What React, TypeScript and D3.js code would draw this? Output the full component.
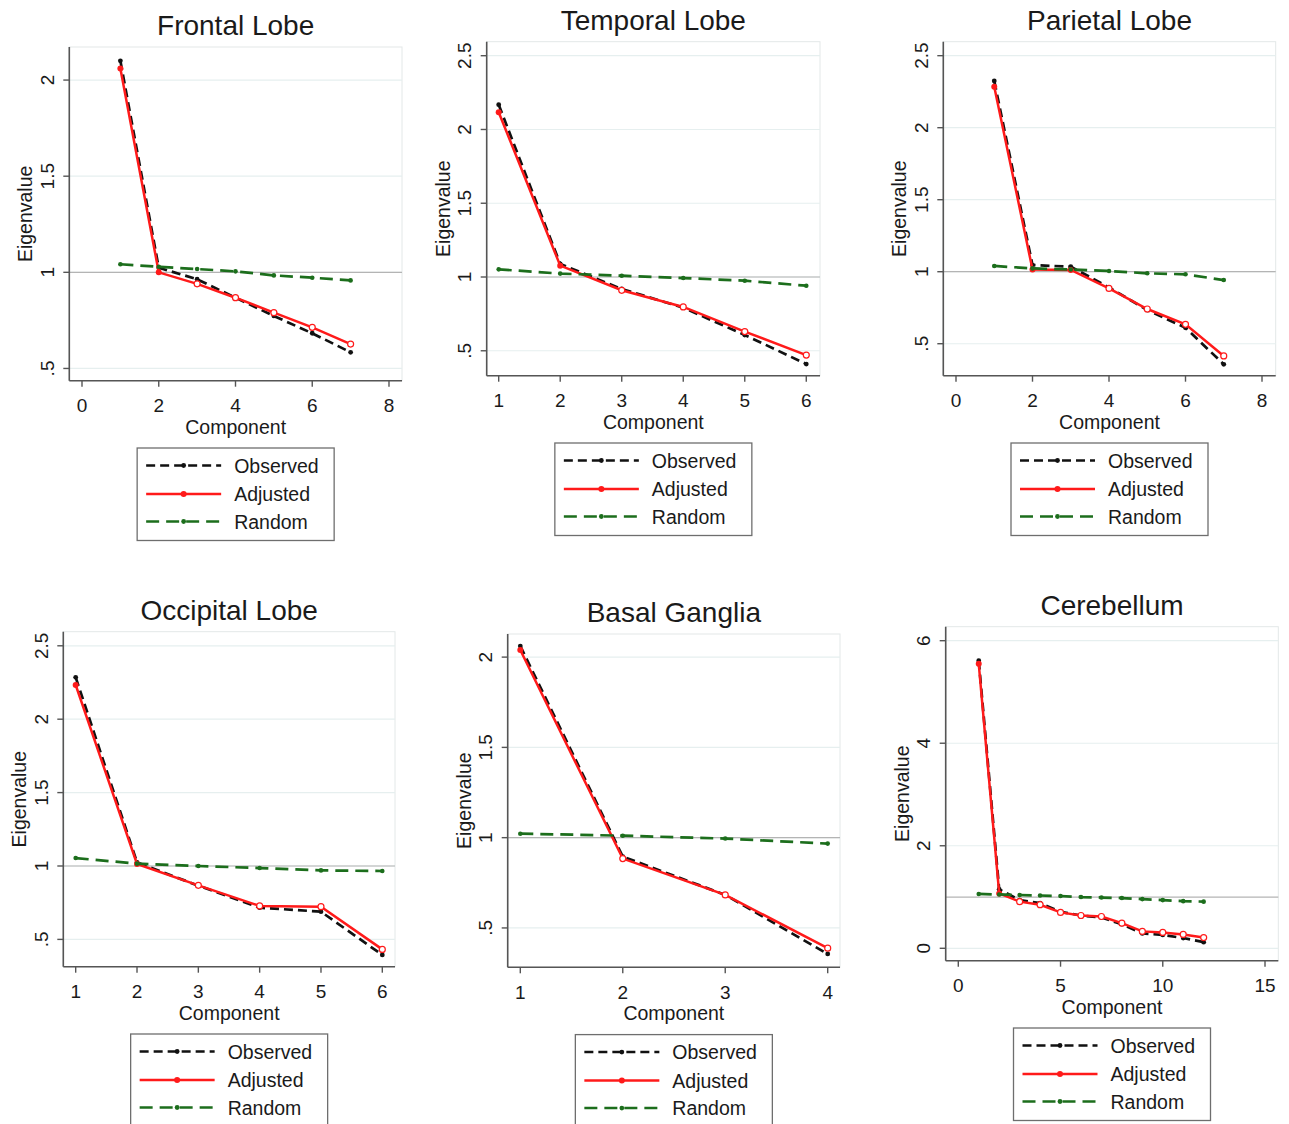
import React from "react";
import * as d3 from "d3";

// ---------------- DATA ----------------
const frontalObserved = [2.10, 1.024, 0.964, 0.868, 0.773, 0.683, 0.584];
const frontalAdjusted = [2.06, 1.00, 0.94, 0.868, 0.79, 0.714, 0.627];
const frontalRandom = [1.042, 1.029, 1.017, 1.005, 0.984, 0.972, 0.958];

const temporalObserved = [2.168, 1.088, 0.919, 0.792, 0.607, 0.41];
const temporalAdjusted = [2.117, 1.077, 0.91, 0.797, 0.63, 0.471];
const temporalRandom = [1.052, 1.023, 1.009, 0.993, 0.975, 0.941];

const parietalObserved = [2.324, 1.046, 1.035, 0.891, 0.734, 0.611, 0.357];
const parietalAdjusted = [2.285, 1.016, 1.012, 0.884, 0.741, 0.635, 0.415];
const parietalRandom = [1.04, 1.023, 1.015, 1.005, 0.989, 0.982, 0.942];

const occipitalObserved = [2.285, 1.025, 0.866, 0.716, 0.689, 0.394];
const occipitalAdjusted = [2.233, 1.014, 0.868, 0.728, 0.723, 0.432];
const occipitalRandom = [1.054, 1.016, 1.0, 0.986, 0.97, 0.966];

const basalObserved = [2.061, 0.895, 0.683, 0.356];
const basalAdjusted = [2.039, 0.884, 0.683, 0.388];
const basalRandom = [1.022, 1.011, 0.995, 0.967];

const cerebellumObserved = [5.61, 1.15, 0.94, 0.88, 0.71, 0.64, 0.60, 0.47, 0.29, 0.26, 0.20, 0.12];
const cerebellumAdjusted = [5.55, 1.07, 0.91, 0.85, 0.70, 0.64, 0.62, 0.49, 0.33, 0.31, 0.27, 0.21];
const cerebellumRandom = [1.06, 1.05, 1.04, 1.03, 1.02, 1.00, 0.99, 0.98, 0.96, 0.94, 0.92, 0.91];

const titles = ["Frontal Lobe", "Temporal Lobe", "Parietal Lobe", "Occipital Lobe", "Basal Ganglia", "Cerebellum"];

const xTicks0to8 = [0, 2, 4, 6, 8];
const xTicks1to6 = [1, 2, 3, 4, 5, 6];
const xTicks1to4 = [1, 2, 3, 4];
const xTicks0to15 = [0, 5, 10, 15];

const yTicksA = [0.5, 1, 1.5, 2];
const yTicksB = [0.5, 1, 1.5, 2, 2.5];
const yTicksC = [0, 2, 4, 6];
const yTickLabel = (v: number) => (v > 0 && v < 1 ? String(v).replace(/^0/, "") : String(v));

const legendLabels = ["Observed", "Adjusted", "Random"];

// ---------------- LAYOUT ----------------
type Panel = {
  title: string;
  box: [number, number, number, number]; // left, top, right, bottom
  xDomain: [number, number];
  yDomain: [number, number];
  xTicks: number[];
  yTicks: number[];
  observed: number[];
  adjusted: number[];
  random: number[];
};

const panels: Panel[] = [
  { title: titles[0], box: [69.3, 47, 402, 380.7], xDomain: [-0.331, 8.339], yDomain: [0.4363, 2.172], xTicks: xTicks0to8, yTicks: yTicksA, observed: frontalObserved, adjusted: frontalAdjusted, random: frontalRandom },
  { title: titles[1], box: [486.7, 41.7, 820, 375.7], xDomain: [0.805, 6.223], yDomain: [0.331, 2.595], xTicks: xTicks1to6, yTicks: yTicksB, observed: temporalObserved, adjusted: temporalAdjusted, random: temporalRandom },
  { title: titles[2], box: [943.3, 41.7, 1275.7, 375.7], xDomain: [-0.332, 8.358], yDomain: [0.278, 2.597], xTicks: xTicks0to8, yTicks: yTicksB, observed: parietalObserved, adjusted: parietalAdjusted, random: parietalRandom },
  { title: titles[3], box: [63.3, 631.7, 395, 966.7], xDomain: [0.798, 6.207], yDomain: [0.314, 2.596], xTicks: xTicks1to6, yTicks: yTicksB, observed: occipitalObserved, adjusted: occipitalAdjusted, random: occipitalRandom },
  { title: titles[4], box: [507.7, 634, 840, 967.3], xDomain: [0.877, 4.12], yDomain: [0.282, 2.128], xTicks: xTicks1to4, yTicks: yTicksA, observed: basalObserved, adjusted: basalAdjusted, random: basalRandom },
  { title: titles[5], box: [945.7, 626.7, 1278.3, 960.7], xDomain: [-0.616, 15.65], yDomain: [-0.242, 6.273], xTicks: xTicks0to15, yTicks: yTicksC, observed: cerebellumObserved, adjusted: cerebellumAdjusted, random: cerebellumRandom },
];

const FONT = "Arimo, 'Liberation Sans', Arial, Helvetica, sans-serif";
const TEXT = "#1a1a1a";
const AXIS = "#555";
const GRID = "#e6efef";
const REF = "#b4b4b4";
const BLACK = "#111";
const RED = "#ff1a1a";
const GREEN = "#1c6e1c";
const OBS_DASH = "9 5";
const RND_DASH = "13 7";

function PanelView({ p }: { p: Panel }) {
  const [l, t, r, b] = p.box;
  const x = d3.scaleLinear().domain(p.xDomain).range([l, r]);
  const y = d3.scaleLinear().domain(p.yDomain).range([b, t]);
  const idx = (arr: number[]) => arr.map((v, i) => [i + 1, v] as [number, number]);
  const line = d3.line<[number, number]>().x((d) => x(d[0])).y((d) => y(d[1]));
  const cx = (l + r) / 2;
  const cy = (t + b) / 2;
  const legX = cx - 98.5;
  const legY = b + 67.3;
  const rows = [17.5, 46, 73.5];

  return (
    <g>
      {/* plot frame */}
      <rect x={l} y={t} width={r - l} height={b - t} fill="#fff" stroke="#e3e8e8" strokeWidth={1} />
      {/* grid */}
      {p.yTicks.map((v) => (
        <line key={"g" + v} x1={l} x2={r} y1={y(v)} y2={y(v)} stroke={GRID} strokeWidth={1.2} />
      ))}
      {/* reference line at 1 */}
      <line x1={l} x2={r} y1={y(1)} y2={y(1)} stroke={REF} strokeWidth={1.2} />

      {/* series */}
      <path d={line(idx(p.observed)) || ""} fill="none" stroke={BLACK} strokeWidth={2.7} strokeDasharray={OBS_DASH} />
      {idx(p.observed).map((d, i) => (
        <circle key={"o" + i} cx={x(d[0])} cy={y(d[1])} r={2.4} fill={BLACK} />
      ))}
      <path d={line(idx(p.adjusted)) || ""} fill="none" stroke={RED} strokeWidth={2.5} />
      {idx(p.adjusted).map((d, i) =>
        d[1] >= 1 ? (
          <circle key={"a" + i} cx={x(d[0])} cy={y(d[1])} r={3} fill={RED} />
        ) : (
          <circle key={"a" + i} cx={x(d[0])} cy={y(d[1])} r={3} fill="#fff" stroke={RED} strokeWidth={1.2} />
        )
      )}
      <path d={line(idx(p.random)) || ""} fill="none" stroke={GREEN} strokeWidth={2.7} strokeDasharray={RND_DASH} />
      {idx(p.random).map((d, i) => (
        <circle key={"r" + i} cx={x(d[0])} cy={y(d[1])} r={2.3} fill={GREEN} />
      ))}

      {/* axes */}
      <line x1={l} x2={l} y1={t} y2={b} stroke={AXIS} strokeWidth={1.6} />
      <line x1={l} x2={r} y1={b} y2={b} stroke={AXIS} strokeWidth={1.6} />
      {p.yTicks.map((v) => (
        <g key={"yt" + v}>
          <line x1={l - 6} x2={l} y1={y(v)} y2={y(v)} stroke={AXIS} strokeWidth={1.4} />
          <text
            transform={`translate(${l - 15.5},${y(v)}) rotate(-90)`}
            textAnchor="middle"
            fontFamily={FONT}
            fontSize={19}
            fill={TEXT}
          >
            {yTickLabel(v)}
          </text>
        </g>
      ))}
      {p.xTicks.map((v) => (
        <g key={"xt" + v}>
          <line x1={x(v)} x2={x(v)} y1={b} y2={b + 6} stroke={AXIS} strokeWidth={1.4} />
          <text x={x(v)} y={b + 31.5} textAnchor="middle" fontFamily={FONT} fontSize={19} fill={TEXT}>
            {v}
          </text>
        </g>
      ))}
      <text x={cx} y={b + 53} textAnchor="middle" fontFamily={FONT} fontSize={19.5} fill={TEXT}>
        Component
      </text>
      <text
        transform={`translate(${l - 37},${cy}) rotate(-90)`}
        textAnchor="middle"
        fontFamily={FONT}
        fontSize={19.5}
        fill={TEXT}
      >
        Eigenvalue
      </text>
      <text x={cx} y={t - 12} textAnchor="middle" fontFamily={FONT} fontSize={28} fill={TEXT}>
        {p.title}
      </text>

      {/* legend */}
      <rect x={legX} y={legY} width={197} height={92.5} fill="#fff" stroke="#6e6e6e" strokeWidth={1.3} />
      {legendLabels.map((lab, i) => {
        const ry = legY + rows[i];
        const x1 = legX + 9;
        const x2 = legX + 84;
        const mid = (x1 + x2) / 2;
        const stroke = i === 0 ? BLACK : i === 1 ? RED : GREEN;
        const dash = i === 0 ? OBS_DASH : i === 1 ? undefined : RND_DASH;
        return (
          <g key={lab}>
            <line x1={x1} x2={x2} y1={ry} y2={ry} stroke={stroke} strokeWidth={2.5} strokeDasharray={dash} />
            <circle cx={mid} cy={ry} r={i === 1 ? 3 : 2.4} fill={stroke} />
            <text x={legX + 97} y={ry + 7} fontFamily={FONT} fontSize={19.5} fill={TEXT}>
              {lab}
            </text>
          </g>
        );
      })}
    </g>
  );
}

export default function App() {
  return (
    <svg
      width={1289}
      height={1124}
      viewBox="0 0 1289 1124"
      style={{ position: "absolute", left: 0, top: 0, background: "#fff" }}
    >
      <rect x={0} y={0} width={1289} height={1124} fill="#fff" />
      {panels.map((p) => (
        <PanelView key={p.title} p={p} />
      ))}
    </svg>
  );
}
